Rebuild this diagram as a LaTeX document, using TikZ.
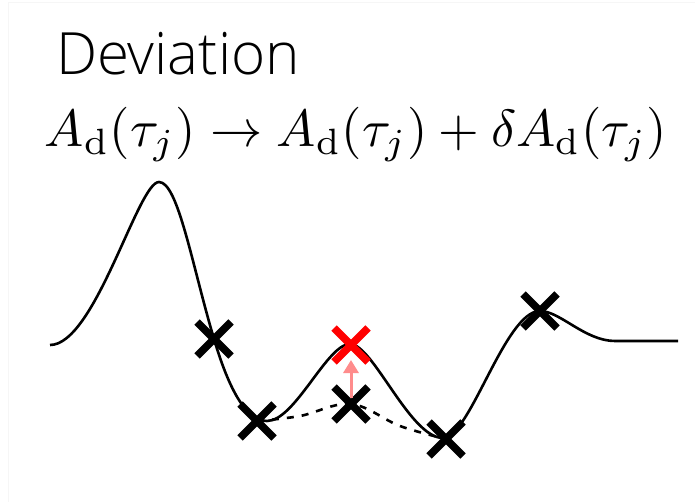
\documentclass[tikz,border=0pt]{standalone}
\usepackage{fontspec}
\usepackage{graphicx}
\usetikzlibrary{shapes.misc,arrows.meta}
\IfFontExistsTF{Open Sans Light}{\newfontfamily\titlefont{Open Sans Light}}{%
 \IfFontExistsTF{Lato Light}{\newfontfamily\titlefont{Lato Light}}{%
  \IfFontExistsTF{Fira Sans Light}{\newfontfamily\titlefont{Fira Sans Light}}{%
   \IfFontExistsTF{Noto Sans Light}{\newfontfamily\titlefont{Noto Sans Light}}{%
    \IfFontExistsTF{Poppins Light}{\newfontfamily\titlefont{Poppins Light}}{%
     \newfontfamily\titlefont{Open Sans}}}}}}
\definecolor{xred}{HTML}{FF0000}
\definecolor{arrowpink}{HTML}{FF8C8C}
\definecolor{framegray}{HTML}{F6F6F6}
\tikzset{
  xmark/.style={cross out, draw=black, line width=7.5pt, minimum width=34pt, minimum height=34pt, inner sep=0pt, outer sep=0pt},
  redmark/.style={xmark, draw=xred},
  curve/.style={line width=2.6pt, line join=round},
  dashcurve/.style={line width=2.6pt, dash pattern=on 7pt off 8pt},
  liftarrow/.style={-{Triangle[length=13pt,width=15pt]}, line width=3pt, draw=arrowpink, shorten >=15pt, shorten <=6pt},
  txt/.style={inner sep=0pt, outer sep=0pt, anchor=base west}
}
\begin{document}
\begin{tikzpicture}[x=1pt,y=-1pt]
\useasboundingbox (0,0) rectangle (695,502);
\fill[white] (0,0) rectangle (695,502);
\draw[framegray, line width=1pt] (8,502) -- (8,3) -- (695,3);

\node[txt] (title) at (56,75) {\resizebox{244pt}{!}{\titlefont Deviation}};
\node[txt] (formula) at (45,147) {\resizebox{622pt}{!}{$A_{\mathrm{d}}(\tau_j)\rightarrow A_{\mathrm{d}}(\tau_j)+\delta A_{\mathrm{d}}(\tau_j)$}};

\draw[curve] (50,345)
  .. controls (95,345) and (138,182) .. (159,182)
  .. controls (178,182) and (192,265) .. (214,339)
  .. controls (228,386) and (245,421) .. (267,421)
  .. controls (295,421) and (327,344) .. (350,344)
  .. controls (373,344) and (410,438) .. (443,438)
  .. controls (470,438) and (505,311) .. (540,311)
  .. controls (560,311) and (585,341) .. (615,341)
  -- (678,341);

\node[xmark] (x1) at (214,339) {};
\node[xmark] (x2) at (257,421) {};
\node[xmark] (x3) at (351,404) {};
\node[xmark] (x4) at (446,439) {};
\node[xmark] (x5) at (540,311) {};

\draw[dashcurve] plot[smooth, tension=0.6] coordinates {(x2.center) (300,416) (x3.center) (400,426) (x4.center)};

\draw[liftarrow] (x3.center) -- (351,345);
\node[redmark] (xr) at (351,345) {};
\end{tikzpicture}
\end{document}
